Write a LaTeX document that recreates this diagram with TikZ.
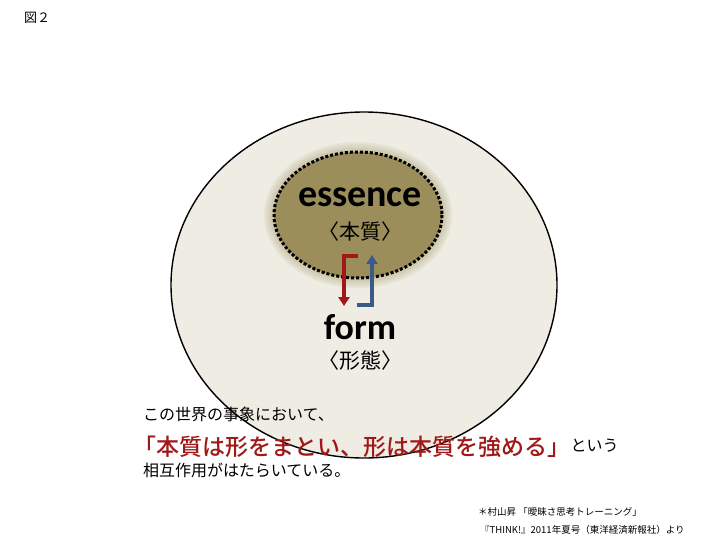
\documentclass[tikz,border=0pt]{standalone}
\usepackage{fontspec}
\setmainfont{Carlito}
\newfontfamily\jp{Noto Sans CJK JP}
\newfontfamily\jpb{Noto Sans CJK JP Medium}
\definecolor{beige}{HTML}{EEECE3}
\definecolor{olive}{HTML}{9B8E5A}
\definecolor{darkred}{HTML}{A01818}
\definecolor{steel}{HTML}{3A5A8A}
\tikzset{
  label jp/.style={font=\jp\fontsize{16}{19}\selectfont, inner sep=0pt},
  big word/.style={font=\bfseries\fontsize{38}{40}\selectfont, inner sep=0pt},
  flow/.style={line width=3.5pt, -{Triangle[length=9pt,width=11pt]}},
}
\usetikzlibrary{arrows.meta,positioning}
\begin{document}
\begin{tikzpicture}[x=1pt,y=-1pt]
  \useasboundingbox (0,0) rectangle (720,543);
  \node[label jp, anchor=west, font=\jp\fontsize{13}{15}\selectfont] (fig) at (24,18) {図２};
  % outer world
  \filldraw[fill=beige, draw=black, line width=1.4pt] (364,285) ellipse [x radius=193, y radius=173];
  % essence core with soft glow
  \foreach \i in {10,8,...,2}
    \fill[olive!\the\numexpr 50-4*\i\relax!beige] (358,215) ellipse [x radius=84+\i, y radius=63+\i];
  \filldraw[fill=olive, draw=black, line width=3pt, dotted] (358,215) ellipse [x radius=84, y radius=63];
  \node[big word] (ess) at (360,197) {essence};
  \node[label jp, font=\jp\fontsize{21}{24}\selectfont] (esslab) at (360,232) {〈本質〉};
  \node[big word, font=\bfseries\fontsize{36}{38}\selectfont] (form) at (360,327) {form};
  \node[label jp, font=\jp\fontsize{21}{24}\selectfont] (formlab) at (360,361) {〈形態〉};
  \coordinate (r0) at (358,256);
  \coordinate (r1) at (344,306);
  \coordinate (b0) at (357,305);
  \coordinate (b1) at (372,255);
  \draw[flow, darkred] (r0) -| (r1);
  \draw[flow, steel] (b0) -| (b1);
  % caption
  \node[label jp, anchor=west] (cap1) at (143,414) {この世界の事象において、};
  \node[label jp, anchor=west, font=\jpb\fontsize{23}{26}\selectfont, text=darkred] (cap2) at (133,447) {「本質は形をまとい、形は本質を強める」};
  \node[label jp, anchor=west, right=0pt of cap2.east, yshift=1pt] (cap2b) {という};
  \node[label jp, anchor=west] (cap3) at (143,470) {相互作用がはたらいている。};
  \node[label jp, anchor=west, font=\jp\fontsize{9.5}{11}\selectfont] (src1) at (478,512) {＊村山昇 「曖昧さ思考トレーニング」};
  \node[label jp, anchor=west, font=\jp\fontsize{9.5}{11}\selectfont] (src2) at (480,530) {『THINK!』2011年夏号（東洋経済新報社）より};
\end{tikzpicture}
\end{document}
